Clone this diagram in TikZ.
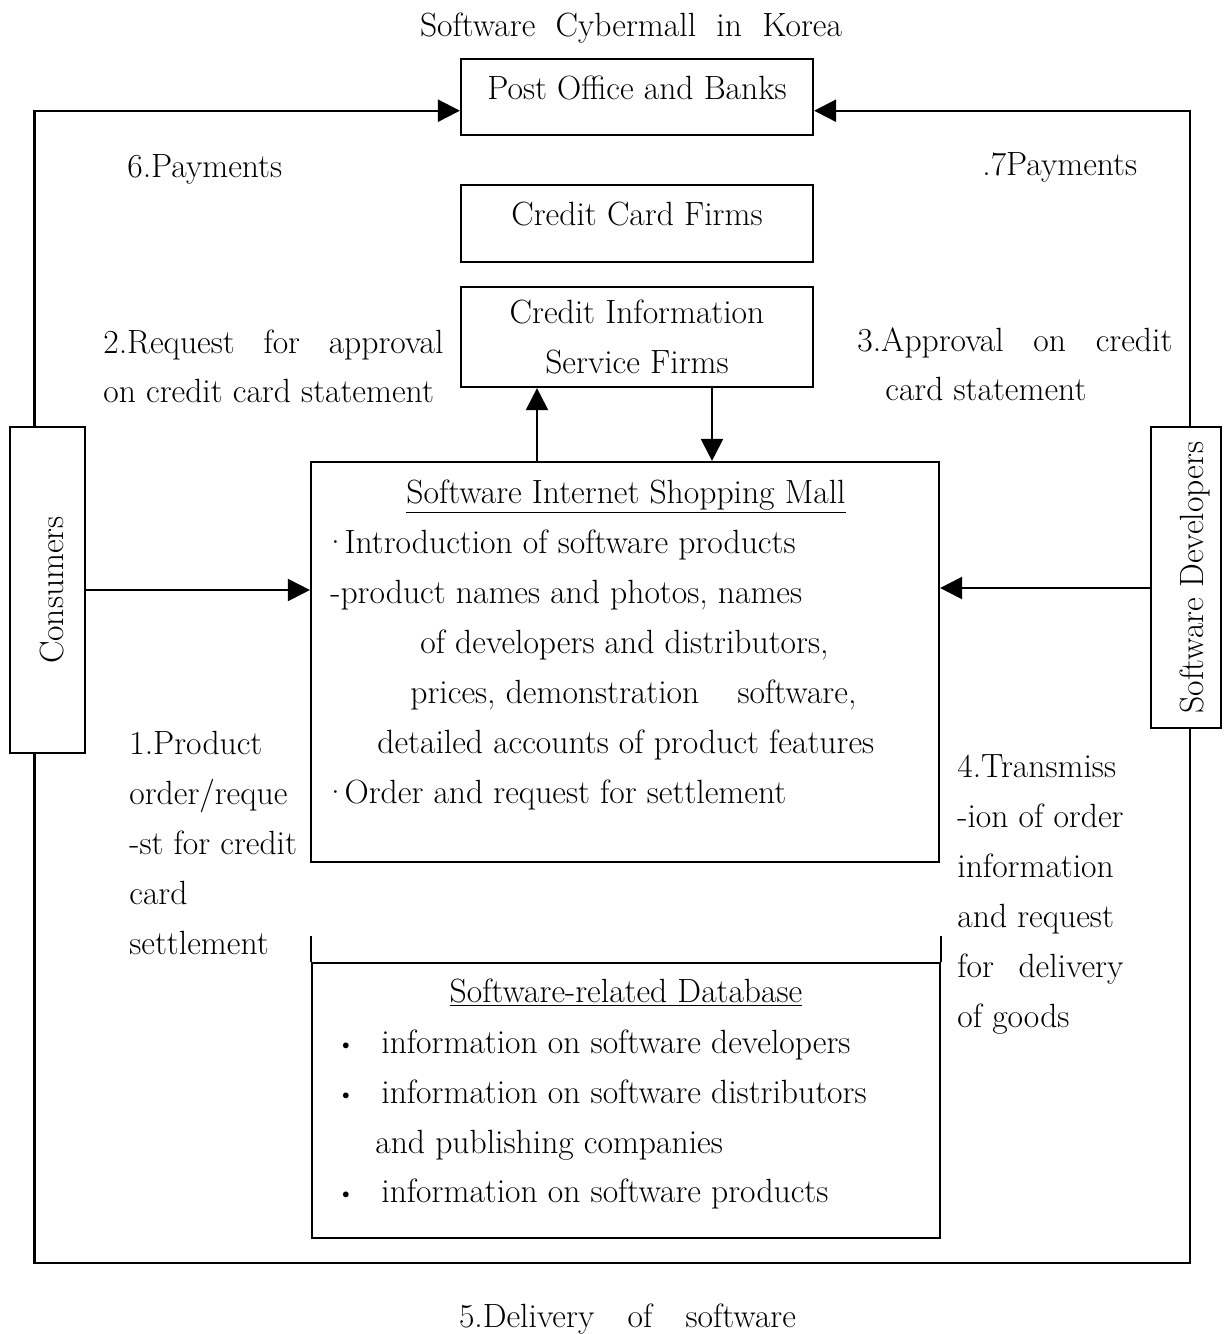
\documentclass[tikz,border=0pt]{standalone}
\usetikzlibrary{arrows.meta}

\tikzset{
  box/.style={draw, line width=1.1pt, inner sep=0pt},
  link/.style={line width=1.1pt, -{Triangle[length=11pt,width=11pt]}},
  wire/.style={line width=1.1pt},
  txt/.style={anchor=base west}
}

\begin{document}
\begin{tikzpicture}[x=0.5pt, y=-0.5pt, every node/.style={font=\fontsize{16.8}{25}\selectfont, inner sep=0pt}]
  % Parameters
  \def\colw{176pt} % width of the middle column boxes
  \def\mallw{314pt} % width of mall and database boxes

  \useasboundingbox (0,0) rectangle (1223,1334);

  % title
  \node[anchor=base] (title) at (631,36) {\makebox[211pt][s]{Software Cybermall in Korea}};

  % middle column
  \node[box, minimum width=\colw, minimum height=38pt, text height=11.7pt, text depth=9.7pt] (post) at (637,97) {Post Office and Banks};
  \node[box, minimum width=\colw, minimum height=38.5pt, text height=11.7pt, text depth=9.7pt] (card) at (637,223.5) {Credit Card Firms};
  \node[box, minimum width=\colw, minimum height=50pt, align=center] (info) at (637,337) {Credit Information\\Service Firms};
  \node[box, minimum width=\mallw, minimum height=200pt] (mall) at (625,662) {};
  \node[box, minimum width=\mallw, minimum height=137.5pt] (db) at (626,1100.5) {};

  % side boxes
  \node[box, minimum width=37.5pt, minimum height=163pt] (cons) at (47.5,590) {\hspace*{4.5pt}\rotatebox{90}{Consumers}};
  \node[box, minimum width=35pt, minimum height=150.5pt] (dev) at (1186,577.5) {\hspace*{9pt}\rotatebox{90}{Software Developers}};

  % mall contents
  \node[anchor=base] (mallTitle) at (626,503) {\underline{Software Internet Shopping Mall}};
  \foreach \x/\t [count=\i] in {323/{·\hspace{-1.5pt}Introduction of software products}, 330/{-product names and photos, names},
      420/{of developers and distributors,}, 410/{\makebox[223pt][s]{prices, demonstration\hfill software,}},
      377/{detailed accounts of product features}, 323/{·\hspace{-1.5pt}Order and request for settlement}}
    \node[txt] (mall-\i) at (\x,503+50*\i) {\t};

  % database contents
  \node[anchor=base] (dbTitle) at (626,1002) {\underline{Software-related Database}};
  \foreach \y/\t [count=\i] in {1053/{information on software developers}, 1103/{information on software distributors},
      1202/{information on software products}}
    {\node[anchor=base] (dot-\i) at (346,\y-3) {\fontsize{10}{10}\selectfont\textbullet};
     \node[txt] (db-\i) at (381,\y) {\t};}
  \node[txt] (db-4) at (375,1153) {and publishing companies};

  % labels of the flows
  \node[txt] (pay6) at (127,177) {6.Payments};
  \node[txt] (pay7) at (982,175) {.7Payments};
  \node[txt] (req-1) at (103,353) {\makebox[170pt][s]{2.Request for approval}};
  \node[txt] (req-2) at (103,402) {on credit card statement};
  \node[txt] (ok-1) at (857,351) {\makebox[157.5pt][s]{3.Approval on credit}};
  \node[txt] (ok-2) at (885,400) {card statement};
  \foreach \t [count=\i from 0] in {1.Product, {order/reque}, -st for credit, card, settlement}
    \node[txt] (order-\i) at (129,754+50*\i) {\t};
  \foreach \t [count=\i from 0] in {4.Transmiss, -ion of order, information, and request,
      {\makebox[83pt][s]{for delivery}}, of goods}
    \node[txt] (send-\i) at (957,777+50*\i) {\t};
  \node[anchor=base] (deliver) at (627.5,1327) {\makebox[168.5pt][s]{5.Delivery of software}};

  % payments to post office and banks
  \draw[link] ([xshift=-6.5pt]cons.north) |- ([yshift=-6.85pt]post.west);
  \draw[link] ([xshift=2pt]dev.north) |- ([yshift=-6.85pt]post.east);

  % orders into the mall
  \draw[link] (cons.east) -- (cons.east -| mall.west);
  \draw[link] ([yshift=-5.25pt]dev.west) -- ([yshift=37pt]mall.east);

  % approval requests
  \draw[link] ([xshift=-44pt]mall.north) -- ([xshift=-50pt]info.south);
  \draw[link] ([xshift=37.5pt]info.south) -- ([xshift=43.5pt]mall.north);

  % delivery loop
  \coordinate (turn) at (1190,1263);
  \draw[wire] ([xshift=-6.5pt]cons.south) |- (turn) -- ([xshift=2pt]dev.south);

  % open top of the database
  \draw[wire] (db.north west) -- ++(0,-26);
  \draw[wire] (db.north east) -- ++(0,-26);
\end{tikzpicture}
\end{document}
